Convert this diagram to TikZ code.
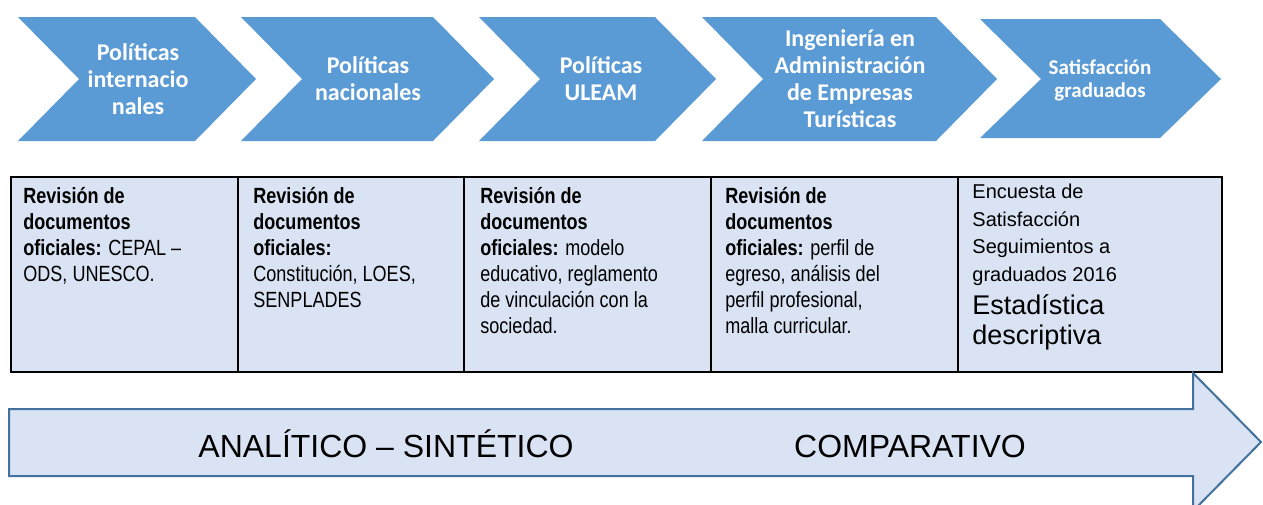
\documentclass[tikz,border=0pt]{standalone}
\usepackage{fontspec}
\setmainfont{Liberation Sans}
\newfontfamily\calibri{Carlito}
\newfontfamily\narrow[FakeStretch=0.82]{Liberation Sans}
\definecolor{chevblue}{HTML}{5B9BD5}
\definecolor{cellfill}{HTML}{DAE3F3}
\definecolor{arrowline}{HTML}{41719C}
\newcommand{\firstline}{\rule{0pt}{11pt}}
\newcommand{\bigline}{\fontsize{13.5}{15}\selectfont}

\begin{document}
\begin{tikzpicture}[x=0.5pt,y=-0.5pt,
  chev/.style={fill=chevblue},
  chevtext/.style={text=white,align=center,inner sep=0pt,font=\calibri\bfseries\fontsize{12}{13.5}\selectfont},
  cell/.style={draw=black,line width=1pt,fill=cellfill,anchor=north west,inner sep=0pt,minimum height=97.5pt},
  celltext/.style={anchor=north west,inner sep=0pt,align=left,font=\narrow\fontsize{11}{13}\selectfont},
  bigarrow/.style={draw=arrowline,line width=1pt,fill=cellfill,line join=miter},
  arrowtext/.style={anchor=base,font=\fontsize{16}{18}\selectfont}]
\useasboundingbox (0,0) rectangle (1263,504);
\clip (0,0) rectangle (1263,504);

\foreach \l/\r/\t/\b in {18/195/17/141, 241/433/17/141, 479/655/17/141, 702/936/17/141, 980/1160/19/138}
  \fill[chev] (\l,\t) -- (\r,\t) -- (\r+61,79) -- (\r,\b) -- (\l,\b) -- (\l+61,79) -- cycle;

\node[chevtext] (intl) at (138,79) {Políticas\\internacio\\nales};
\node[chevtext] (nac)  at (368,79) {Políticas\\nacionales};
\node[chevtext] (uleam) at (601,79) {Políticas\\ULEAM};
\node[chevtext] (ing)  at (850,79) {Ingeniería en\\Administración\\de Empresas\\Turísticas};
\node[chevtext,font=\calibri\bfseries\fontsize{10.5}{11.5}\selectfont] (sat) at (1100,80) {Satisfacción\\graduados};

\foreach \n/\a/\b in {1/10/237, 2/237/463, 3/463/710, 4/710/957, 5/957/1221}
  \node[cell,minimum width={(\b-\a)*0.5pt}] (cell\n) at (\a,176) {};

\node[celltext] (doc1) at ([xshift=6.5pt,yshift=-2.5pt]cell1.north west)
  {\firstline\textbf{Revisión de}\\ \textbf{documentos}\\ \textbf{oficiales:} CEPAL –\\ ODS, UNESCO.};
\node[celltext] (doc2) at ([xshift=8pt,yshift=-2.5pt]cell2.north west)
  {\firstline\textbf{Revisión de}\\ \textbf{documentos}\\ \textbf{oficiales:}\\ Constitución, LOES,\\ SENPLADES};
\node[celltext] (doc3) at ([xshift=8.5pt,yshift=-2.5pt]cell3.north west)
  {\firstline\textbf{Revisión de}\\ \textbf{documentos}\\ \textbf{oficiales:} modelo\\ educativo, reglamento\\ de vinculación con la\\ sociedad.};
\node[celltext] (doc4) at ([xshift=7.5pt,yshift=-2.5pt]cell4.north west)
  {\firstline\textbf{Revisión de}\\ \textbf{documentos}\\ \textbf{oficiales:} perfil de\\ egreso, análisis del\\ perfil profesional,\\ malla curricular.};
\node[celltext,font=\fontsize{10}{13.8}\selectfont] (doc5) at ([xshift=7.5pt,yshift=0pt]cell5.north west)
  {\firstline Encuesta de\\ Satisfacción\\ Seguimientos a\\ graduados 2016\\[3pt]
   \bigline Estadística\\[1pt] \bigline descriptiva};

\draw[bigarrow] (9,409) -- (1193,409) -- (1193,373) -- (1261,442) -- (1193,511) -- (1193,476) -- (9,476) -- cycle;
\node[arrowtext] (anal) at (386,457) {ANALÍTICO – SINTÉTICO};
\node[arrowtext] (comp) at (910,457) {COMPARATIVO};
\end{tikzpicture}
\end{document}
